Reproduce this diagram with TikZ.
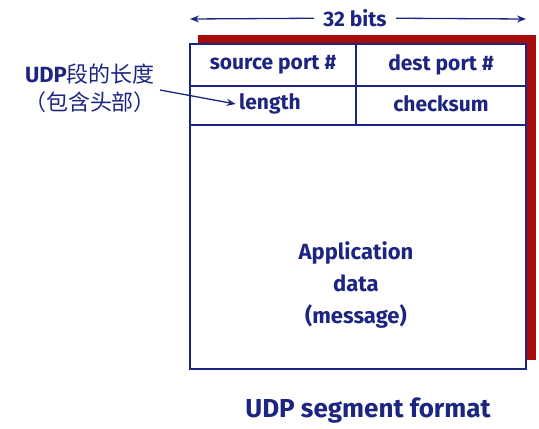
\documentclass[tikz,border=0pt]{standalone}
\usepackage{fontspec}
\setmainfont{Fira Sans}
\newfontfamily\cjk{Noto Sans CJK SC}
\usetikzlibrary{positioning, arrows.meta}
\definecolor{navy}{RGB}{28,38,128}
\definecolor{shadowred}{RGB}{168,12,10}

\begin{document}
\begin{tikzpicture}[x=1pt, y=-1pt,
    every node/.style={text=navy, font=\fontsize{21}{24}\selectfont\bfseries},
    rule/.style={navy, line width=1.1pt},
    dim/.style={navy, line width=1.3pt, -{Stealth[length=9pt,width=7pt]}}]
        \useasboundingbox (0,0) rectangle (539,429);

        % Schatten und Rahmen des Segments
        \fill[shadowred] (198,35) rectangle (536,360);
        \draw[rule, fill=white] (190,44) rectangle (526,369);
        \draw[rule] (190,86) -- (526,86);
        \draw[rule] (190,125) -- (526,125);
        \draw[rule] (356,44) -- (356,125);

        % Kopffelder
        \node (src) at (273,65) {source port \#};
        \node (dst) at (441,65) {dest port \#};
        \node (len) at (270,104) {length};
        \node (chk) at (441,104) {checksum};

        % Nutzdaten
        \node[align=center, font=\fontsize{22}{32}\selectfont\bfseries] (data) at (356,285) {Application\\data\\(message)};

        % Breite 32 bits
        \node[inner xsep=9pt] (bits) at (355,18) {32 bits};
        \coordinate (bitsl) at (190,19);
        \coordinate (bitsr) at (526,19);
        \draw[dim] (bits) -- (bitsl);
        \draw[dim] (bits) -- (bitsr);

        % Erklaerung zu length
        \node[align=center, font=\fontsize{22}{28}\selectfont\bfseries] (lenlbl) at (90,88) {UDP{\cjk\mdseries 段的长度}\\{\cjk\mdseries （包含头部）}};
        \coordinate (lenfrom) at (160,90);
        \draw[dim] (lenfrom) -- (len.west);

        % Unterschrift
        \node[font=\fontsize{26}{28}\selectfont\bfseries] (title) at (368,411) {UDP segment format};
    \end{tikzpicture}
\end{document}
